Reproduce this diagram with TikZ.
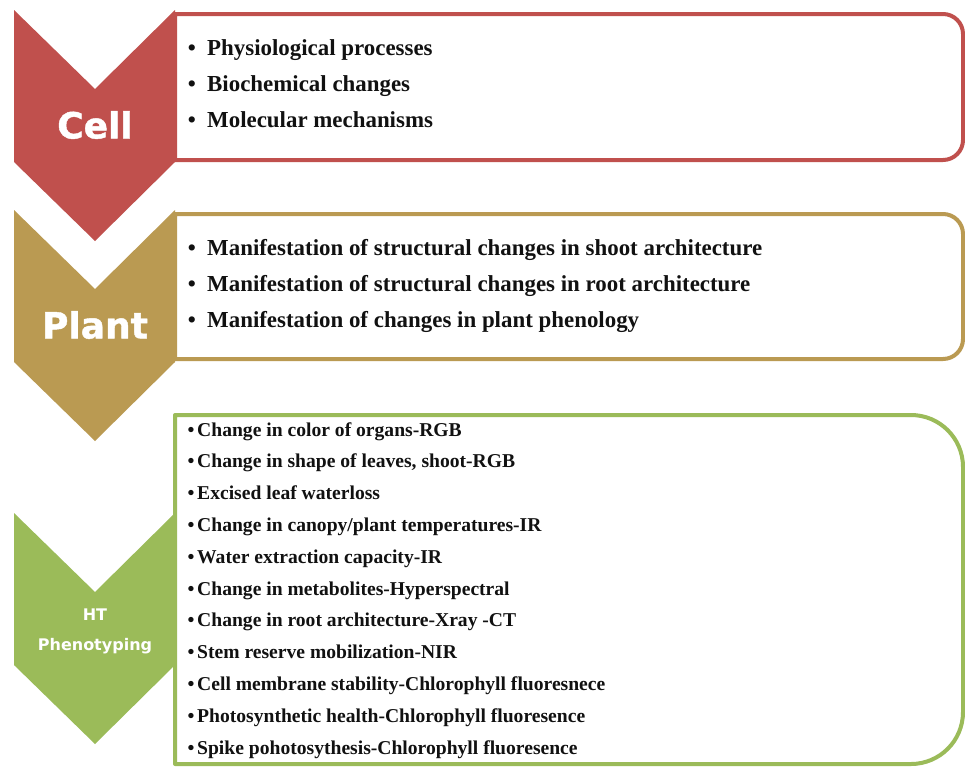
\documentclass[tikz,border=0pt]{standalone}
\usepackage{fontspec}
\setmainfont{Liberation Serif}
\newfontfamily\labelfont{DejaVu Sans}
\newfontfamily\heavylabelfont[FakeBold=1.2]{DejaVu Sans}
\definecolor{cellred}{HTML}{C0504D}
\definecolor{plantgold}{HTML}{BA9A52}
\definecolor{htgreen}{HTML}{9BBB59}
\definecolor{itemtext}{HTML}{111111}
\begin{document}
\begin{tikzpicture}[x=1pt,y=-1pt,
  boxline/.style={draw=#1,line width=4pt,fill=white,line join=round},
  chev/.style={fill=#1,draw=none},
  item/.style={anchor=base west,inner sep=0pt,text=itemtext,font=\bfseries\fontsize{22.9}{27}\selectfont},
  bul/.style={anchor=base,inner sep=0pt,text=itemtext,font=\bfseries\fontsize{22.9}{27}\selectfont},
  smallitem/.style={anchor=base west,inner sep=0pt,text=itemtext,font=\bfseries\fontsize{19.6}{23}\selectfont},
  smallbul/.style={anchor=base,inner sep=0pt,text=itemtext,font=\bfseries\fontsize{19.6}{23}\selectfont},
  biglabel/.style={text=white,inner sep=0pt,font=\heavylabelfont\bfseries\fontsize{36}{40}\selectfont},
  smalllabel/.style={text=white,inner sep=0pt,align=center,font=\labelfont\bfseries\fontsize{16}{30}\selectfont}]
\useasboundingbox (0,0) rectangle (965,766);
\fill[white] (0,0) rectangle (965,766);

% box with square left corners and rounded right corners: colour, top, bottom, radius
\newcommand\sidebox[4]{%
  \draw[boxline=#1] (175,#2) -- ({963-#4},#2)
    .. controls ({963-0.448*#4},#2) and (963,{#2+0.448*#4}) .. (963,{#2+#4})
    -- (963,{#3-#4})
    .. controls (963,{#3-0.448*#4}) and ({963-0.448*#4},#3) .. ({963-#4},#3)
    -- (175,#3) -- cycle;}
% downward chevron: colour, top
\newcommand\downchevron[2]{%
  \fill[chev=#1] (14,#2) -- (95,{#2+79}) -- (175,#2) -- (175,{#2+152})
    -- (95,{#2+231}) -- (14,{#2+152}) -- cycle;}

\sidebox{cellred}{14}{160}{20}
\sidebox{plantgold}{214}{359}{20}
\sidebox{htgreen}{415}{764}{52}

\downchevron{cellred}{10}
\downchevron{plantgold}{210}
\downchevron{htgreen}{513}

\node[biglabel] (cell) at (95,125) {Cell};
\node[biglabel] (plant) at (95,325) {Plant};
\node[smalllabel] (ht) at (95,631) {HT\\Phenotyping};

% cell level
\foreach \t [count=\i from 0] in {Physiological processes,Biochemical changes,Molecular mechanisms}{
  \node[bul] (cb\i) at (192,{55+36*\i}) {•};
  \node[item] (c\i) at (207,{55+36*\i}) {\t};
}
% plant level
\foreach \t [count=\i from 0] in {Manifestation of structural changes in shoot architecture,
  Manifestation of structural changes in root architecture,
  Manifestation of changes in plant phenology}{
  \node[bul] (pb\i) at (192,{255+36*\i}) {•};
  \node[item] (p\i) at (207,{255+36*\i}) {\t};
}
% phenotyping level
\foreach \t [count=\i from 0] in {Change in color of organs-RGB,
  {Change in shape of leaves, shoot-RGB},
  Excised leaf waterloss,
  Change in canopy/plant temperatures-IR,
  Water extraction capacity-IR,
  Change in metabolites-Hyperspectral,
  Change in root architecture-Xray -CT,
  Stem reserve mobilization-NIR,
  Cell membrane stability-Chlorophyll fluoresnece,
  Photosynthetic health-Chlorophyll fluoresence,
  Spike pohotosythesis-Chlorophyll fluoresence}{
  \node[smallbul] (hb\i) at (191,{436+31.8*\i}) {•};
  \node[smallitem] (h\i) at (197,{436+31.8*\i}) {\t};
}
\end{tikzpicture}
\end{document}
